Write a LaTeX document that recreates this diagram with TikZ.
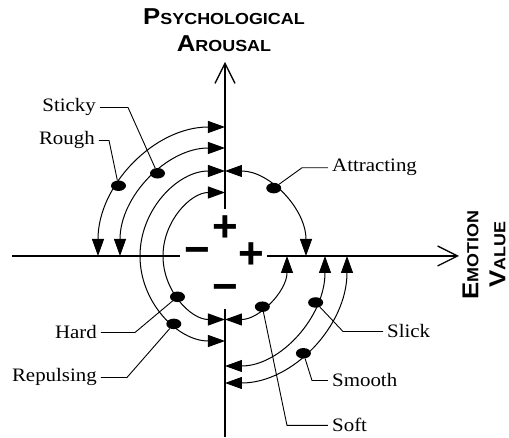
\documentclass[tikz,border=0pt]{standalone}
\usepackage{fontspec}
\setmainfont{Liberation Serif}[FakeStretch=1.1]
\newfontfamily\axisfont{Liberation Sans}[FakeStretch=1.12]
\newfontfamily\signfont{Liberation Sans}
\usetikzlibrary{arrows.meta,positioning,shapes.geometric}
\definecolor{cInk}{HTML}{000000}
\tikzset{
  axisline/.style={line width=1.3pt, draw=cInk},
  axisarrow/.style={axisline, -{Straight Barb[length=20pt,width=20pt]}},
  twoway/.style={line width=1pt, draw=cInk,
     {Triangle[length=17pt,width=12pt]}-{Triangle[length=17pt,width=12pt]}},
  dot/.style={ellipse, fill=cInk, minimum width=15pt, minimum height=10.5pt, inner sep=0pt},
  leader/.style={line width=0.9pt, draw=cInk},
  tag/.style={font=\fontsize{19}{22}\selectfont, text=cInk, inner xsep=4pt, inner ysep=0pt},
  signmark/.style={font=\signfont\bfseries\fontsize{44}{44}\selectfont, text=cInk, inner sep=0pt},
  axislabel/.style={font=\axisfont\bfseries\fontsize{16}{27}\selectfont, text=cInk,
     align=center, inner sep=0pt},
}
% first letter of a small-caps axis title
\newcommand{\capinit}[1]{{\fontsize{23}{27}\selectfont #1}}

\begin{document}
\begin{tikzpicture}[x=1pt,y=1pt]
  \useasboundingbox (-225,-182) rectangle (284,256);
  % signs round the origin
  \node[signmark] (plusup) at (0,27) {+};
  \node[signmark] (minusleft) at (-28,0) {−};
  \node[signmark] (plusright) at (26,0) {+};
  \node[signmark] (minusdown) at (0,-37) {−};
  % axes
  \coordinate (emotionend) at (-213,0);
  \coordinate (emotiontip) at (234,0);
  \coordinate (arousalend) at (0,-181);
  \coordinate (arousaltip) at (0,194);
  \draw[axisline, shorten >=4pt] (emotionend) -- (minusleft);
  \draw[axisarrow, shorten <=3pt] (plusright) -- (emotiontip);
  \draw[axisarrow, shorten <=7pt] (plusup) -- (arousaltip);
  \draw[axisline, shorten <=7pt] (minusdown) -- (arousalend);
  \node[axislabel] (arousal) at (-1,226) {\capinit{P}SYCHOLOGICAL\\\capinit{A}ROUSAL};
  \node[axislabel, rotate=90] (emotion) at (259,1) {\capinit{E}MOTION\\\capinit{V}ALUE};
  % double-headed arcs
  \draw[twoway] (90:127pt and 129pt) arc[start angle=90, end angle=180, x radius=127pt, y radius=129pt];
  \draw[twoway] (90:105pt and 108pt) arc[start angle=90, end angle=180, x radius=105pt, y radius=108pt];
  \draw[twoway] (90:85pt and 85pt) arc[start angle=90, end angle=270, x radius=85pt, y radius=85pt];
  \draw[twoway] (90:62pt and 63.5pt) arc[start angle=90, end angle=270, x radius=62pt, y radius=63.5pt];
  \draw[twoway] (90:81pt and 85pt) arc[start angle=90, end angle=0, x radius=81pt, y radius=85pt];
  \draw[twoway] (0:62pt and 63.5pt) arc[start angle=0, end angle=-90, x radius=62pt, y radius=63.5pt];
  \draw[twoway] (0:100pt and 110pt) arc[start angle=0, end angle=-90, x radius=100pt, y radius=110pt];
  \draw[twoway] (0:122pt and 127pt) arc[start angle=0, end angle=-90, x radius=122pt, y radius=127pt];
  % dots on the arcs
  \node[dot] (roughdot) at (147:127pt and 129pt) {};
  \node[dot] (stickydot) at (130:105pt and 108pt) {};
  \node[dot] (repulsingdot) at (233:85pt and 85pt) {};
  \node[dot] (harddot) at (220:62pt and 63.5pt) {};
  \node[dot] (attractingdot) at (53:81pt and 85pt) {};
  \node[dot] (softdot) at (-53:62pt and 63.5pt) {};
  \node[dot] (slickdot) at (-25:100pt and 110pt) {};
  \node[dot] (smoothdot) at (-50:122pt and 127pt) {};
  % labels
  \node[tag, anchor=base east] (sticky) at (-125,144) {Sticky};
  \node[tag, anchor=base east] (rough) at (-126,111) {Rough};
  \node[tag, anchor=base east] (hard) at (-124,-83) {Hard};
  \node[tag, anchor=base east] (repulsing) at (-124,-126) {Repulsing};
  \node[tag, anchor=base west] (attracting) at (103,84) {Attracting};
  \node[tag, anchor=base west] (slick) at (158,-82) {Slick};
  \node[tag, anchor=base west] (smooth) at (103,-131) {Smooth};
  \node[tag, anchor=base west] (soft) at (103,-176) {Soft};
  % leaders
  \coordinate[right=28pt of sticky.east] (stickyturn);
  \coordinate[right=10pt of rough.east] (roughturn);
  \coordinate[right=34pt of hard.east] (hardturn);
  \coordinate[right=26pt of repulsing.east] (repulsingturn);
  \coordinate[left=26pt of attracting.west] (attractingturn);
  \coordinate[left=40pt of slick.west] (slickturn);
  \coordinate[left=16pt of smooth.west] (smoothturn);
  \coordinate[left=41pt of soft.west] (softturn);
  \draw[leader] (sticky.east) -- (stickyturn) -- (stickydot);
  \draw[leader] (rough.east) -- (roughturn) -- (roughdot);
  \draw[leader] (hard.east) -- (hardturn) -- (harddot);
  \draw[leader] (repulsing.east) -- (repulsingturn) -- (repulsingdot);
  \draw[leader] (attracting.west) -- (attractingturn) -- (attractingdot);
  \draw[leader] (slick.west) -- (slickturn) -- (slickdot);
  \draw[leader] (smooth.west) -- (smoothturn) -- (smoothdot);
  \draw[leader] (soft.west) -- (softturn) -- (softdot);
\end{tikzpicture}
\end{document}
